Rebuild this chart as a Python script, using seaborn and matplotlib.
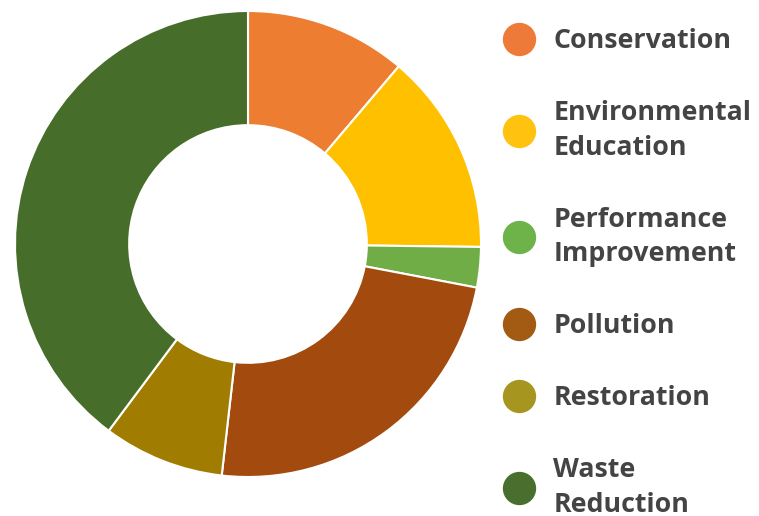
import matplotlib
matplotlib.use('Agg')
import matplotlib.pyplot as plt
import seaborn as sns
from matplotlib.lines import Line2D

sns.set_theme(style='white')
plt.rcParams['font.family'] = ['Open Sans', 'DejaVu Sans']

# Data (share of projects, %)
categories = ['Conservation', 'Environmental\nEducation', 'Performance\nImprovement',
              'Pollution', 'Restoration', 'Waste\nReduction']
shares = [11.2, 14.0, 2.8, 23.8, 8.4, 39.8]
colors = ['#ED7D31', '#FFC000', '#70AD47', '#A34A0E', '#A07D00', '#466E2A']
legend_colors = ['#EE7A3A', '#FFC20E', '#6DB34A', '#A35A12', '#A6951E', '#4A6E2E']

fig = plt.figure(figsize=(7.59, 5.16), dpi=100)
ax = fig.add_axes([15 / 759, 39 / 516, 466 / 759, 466 / 516])
ax.pie(shares, colors=colors, startangle=90, counterclock=False, radius=1,
       wedgeprops=dict(width=0.49, edgecolor='white', linewidth=1.5))
ax.set_xlim(-1, 1)
ax.set_ylim(-1, 1)
ax.set_aspect('equal')
ax.axis('off')

handles = [Line2D([], [], marker='o', ls='', markersize=24, color=c, markeredgewidth=0)
           for c in legend_colors]
leg = fig.legend(handles, categories, loc='upper left',
                 bbox_to_anchor=(502 / 759, 1 - 28 / 516), frameon=False,
                 prop=dict(family='Open Sans', weight='bold', size=19.3),
                 labelspacing=1.72, handletextpad=0.62, handlelength=1.3,
                 borderaxespad=0, borderpad=0)
for t in leg.get_texts():
    t.set_color('#444444')
    t.set_linespacing(1.42)

fig.savefig('out.png', dpi=100)
